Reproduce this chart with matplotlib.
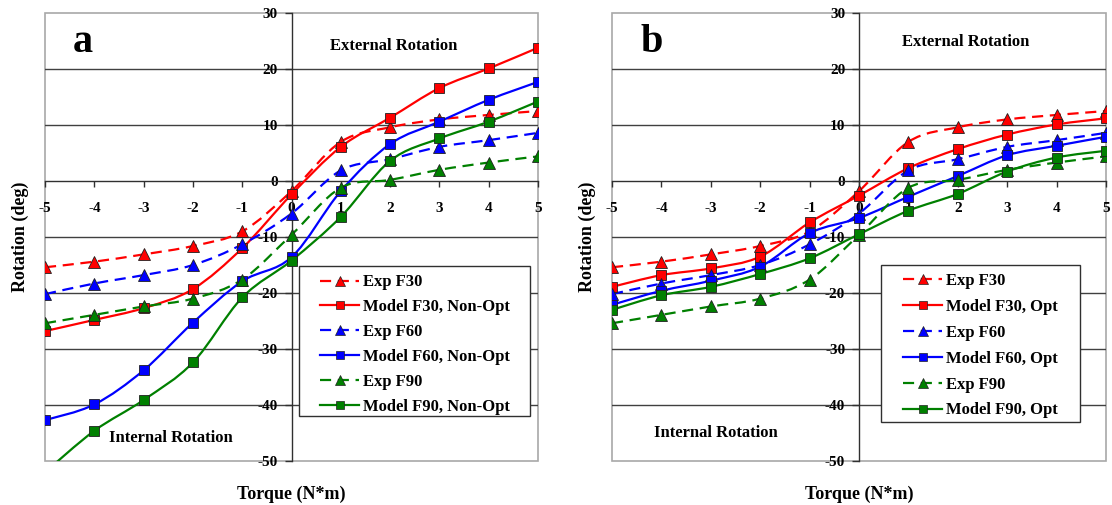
import numpy as np
import matplotlib
matplotlib.use("Agg")
import matplotlib.pyplot as plt
from matplotlib.path import Path
from matplotlib.patches import PathPatch, Rectangle
from matplotlib.lines import Line2D

plt.rcParams['font.family'] = ['Liberation Serif', 'DejaVu Serif']
plt.rcParams['font.weight'] = 'bold'
plt.rcParams['axes.unicode_minus'] = False

torque = [-5, -4, -3, -2, -1, 0, 1, 2, 3, 4, 5]

# Experimental data (shared by both panels)
exp_f30 = [-15.4, -14.4, -13.1, -11.6, -9.0, -1.8, 7.0, 9.6, 11.0, 11.8, 12.5]
exp_f60 = [-20.2, -18.3, -16.8, -15.0, -11.3, -5.8, 1.9, 3.9, 6.1, 7.3, 8.6]
exp_f90 = [-25.4, -23.9, -22.4, -21.0, -17.6, -9.6, -1.2, 0.2, 2.0, 3.3, 4.4]

# Model, non-optimized (panel a)
mod_a_f30 = [-26.8, -24.8, -22.7, -19.3, -12.0, -2.4, 6.1, 11.3, 16.6, 20.1, 23.8]
mod_a_f60 = [-42.7, -39.9, -33.8, -25.3, -17.9, -13.6, -1.8, 6.6, 10.6, 14.5, 17.7]
mod_a_f90 = [-52.0, -44.6, -39.1, -32.4, -20.8, -14.2, -6.4, 3.6, 7.6, 10.6, 14.2]

# Model, optimized (panel b)
mod_b_f30 = [-18.9, -16.8, -15.6, -13.5, -7.4, -2.6, 2.3, 5.7, 8.3, 10.1, 11.2]
mod_b_f60 = [-22.1, -19.6, -17.8, -15.3, -9.3, -6.6, -2.8, 0.9, 4.6, 6.3, 7.9]
mod_b_f90 = [-23.0, -20.4, -18.9, -16.6, -13.8, -9.5, -5.3, -2.3, 1.7, 4.2, 5.4]

RED, BLUE, GREEN = '#ff0000', '#0000ff', '#008000'
DASH = (0, (5, 3))
TRI_MS, SQ_MS = 8, 7


def smooth_path(x, y):
    pts = np.column_stack([x, y]).astype(float)
    n = len(pts)
    verts = [pts[0]]
    codes = [Path.MOVETO]
    for i in range(n - 1):
        p0 = pts[max(i - 1, 0)]
        p1 = pts[i]
        p2 = pts[i + 1]
        p3 = pts[min(i + 2, n - 1)]
        verts += [p1 + (p2 - p0) / 6.0, p2 - (p3 - p1) / 6.0, p2]
        codes += [Path.CURVE4] * 3
    return Path(verts, codes)


def draw_series(ax, y, color, dashed, marker, label):
    ls = DASH if dashed else '-'
    ms = TRI_MS if marker == '^' else SQ_MS
    patch = PathPatch(smooth_path(torque, y), fill=False, edgecolor=color,
                      lw=1.6, linestyle=ls, zorder=3, clip_on=True)
    ax.add_patch(patch)
    ax.plot(torque, y, linestyle='none', marker=marker, ms=ms,
            mfc=color, mec='#202020', mew=0.6, zorder=4, clip_on=True)
    return Line2D([], [], color=color, lw=1.6, linestyle=ls, marker=marker,
                  ms=ms - 1.5, mfc=color, mec='#202020', mew=0.5, label=label)


def setup_axes(ax):
    ax.set_xlim(-5, 5)
    ax.set_ylim(-50, 30)
    for s in ['top', 'right']:
        ax.spines[s].set_visible(False)
    ax.spines['left'].set_position(('data', 0))
    ax.spines['bottom'].set_position(('data', 0))
    for s in ['left', 'bottom']:
        ax.spines[s].set_color('#303030')
        ax.spines[s].set_linewidth(1.0)
        ax.spines[s].set_zorder(2)
    ax.add_patch(Rectangle((0, 0), 1, 1, transform=ax.transAxes, fill=False,
                           edgecolor='#a8a8a8', lw=1.2, zorder=1, clip_on=False))
    ax.set_xticks(torque)
    ax.set_yticks(range(-50, 31, 10))
    ax.tick_params(axis='x', direction='out', length=4, width=1, pad=11,
                   labelsize=11, color='#303030')
    ax.tick_params(axis='y', direction='out', length=5, width=1, pad=5,
                   labelsize=11, color='#303030')
    for lab in ax.get_xticklabels() + ax.get_yticklabels():
        lab.set_fontweight('bold')
    for v in [-40, -30, -20, -10, 10, 20]:
        ax.axhline(v, color='#404040', lw=1.0, zorder=1)


fig = plt.figure(figsize=(11.12, 5.05), dpi=100)
ax_a = fig.add_axes([0.0405, 0.0871, 0.4433, 0.8871])
ax_b = fig.add_axes([0.5504, 0.0871, 0.4442, 0.8871])

panels = [
    # axes, letter, model series, label tag, legend box, legend anchor,
    # row spacing, 'External' position, 'Internal' position
    (ax_a, 'a', (mod_a_f30, mod_a_f60, mod_a_f90), 'Non-Opt',
     (0.515, 0.100, 0.469, 0.335), (0.558, 0.4165), 0.53,
     (0.707, 0.926), (0.2546, 0.051)),
    (ax_b, 'b', (mod_b_f30, mod_b_f60, mod_b_f90), 'Opt',
     (0.5445, 0.087, 0.4028, 0.3504), (0.589, 0.419), 0.59,
     (0.715, 0.935), (0.21, 0.063)),
]

for ax, letter, models, tag, lbox, lanchor, lspace, ext_pos, int_pos in panels:
    setup_axes(ax)
    handles = []
    for exp, mod, color, f in zip((exp_f30, exp_f60, exp_f90), models,
                                  (RED, BLUE, GREEN), ('F30', 'F60', 'F90')):
        handles.append(draw_series(ax, exp, color, True, '^', f'Exp {f}'))
        handles.append(draw_series(ax, mod, color, False, 's', f'Model {f}, {tag}'))
    ax.add_patch(Rectangle(lbox[:2], lbox[2], lbox[3], transform=ax.transAxes,
                           facecolor='white', edgecolor='#303030', lw=1.0,
                           zorder=5, clip_on=False))
    leg = ax.legend(handles=handles, loc='upper left', bbox_to_anchor=lanchor,
                    fontsize=12, frameon=False, handlelength=2.35,
                    handletextpad=0.25, labelspacing=lspace, borderpad=0,
                    borderaxespad=0)
    leg.set_zorder(6)
    for t in leg.get_texts():
        t.set_fontweight('bold')
    ax.text(0.057, 0.913, letter, transform=ax.transAxes,
            fontsize=29, fontweight='bold', ha='left', va='baseline')
    ax.text(*ext_pos, 'External Rotation', transform=ax.transAxes, fontsize=12,
            fontweight='bold', ha='center', va='center')
    ax.text(*int_pos, 'Internal Rotation', transform=ax.transAxes, fontsize=12,
            fontweight='bold', ha='center', va='center')
    ax.text(0.5, -0.0737, 'Torque (N*m)', transform=ax.transAxes, fontsize=13,
            fontweight='bold', ha='center', va='center')
    ax.text(-0.0507, 0.5, 'Rotation (deg)', transform=ax.transAxes, fontsize=13,
            fontweight='bold', ha='center', va='center', rotation=90)

fig.savefig('out.png', dpi=100)
